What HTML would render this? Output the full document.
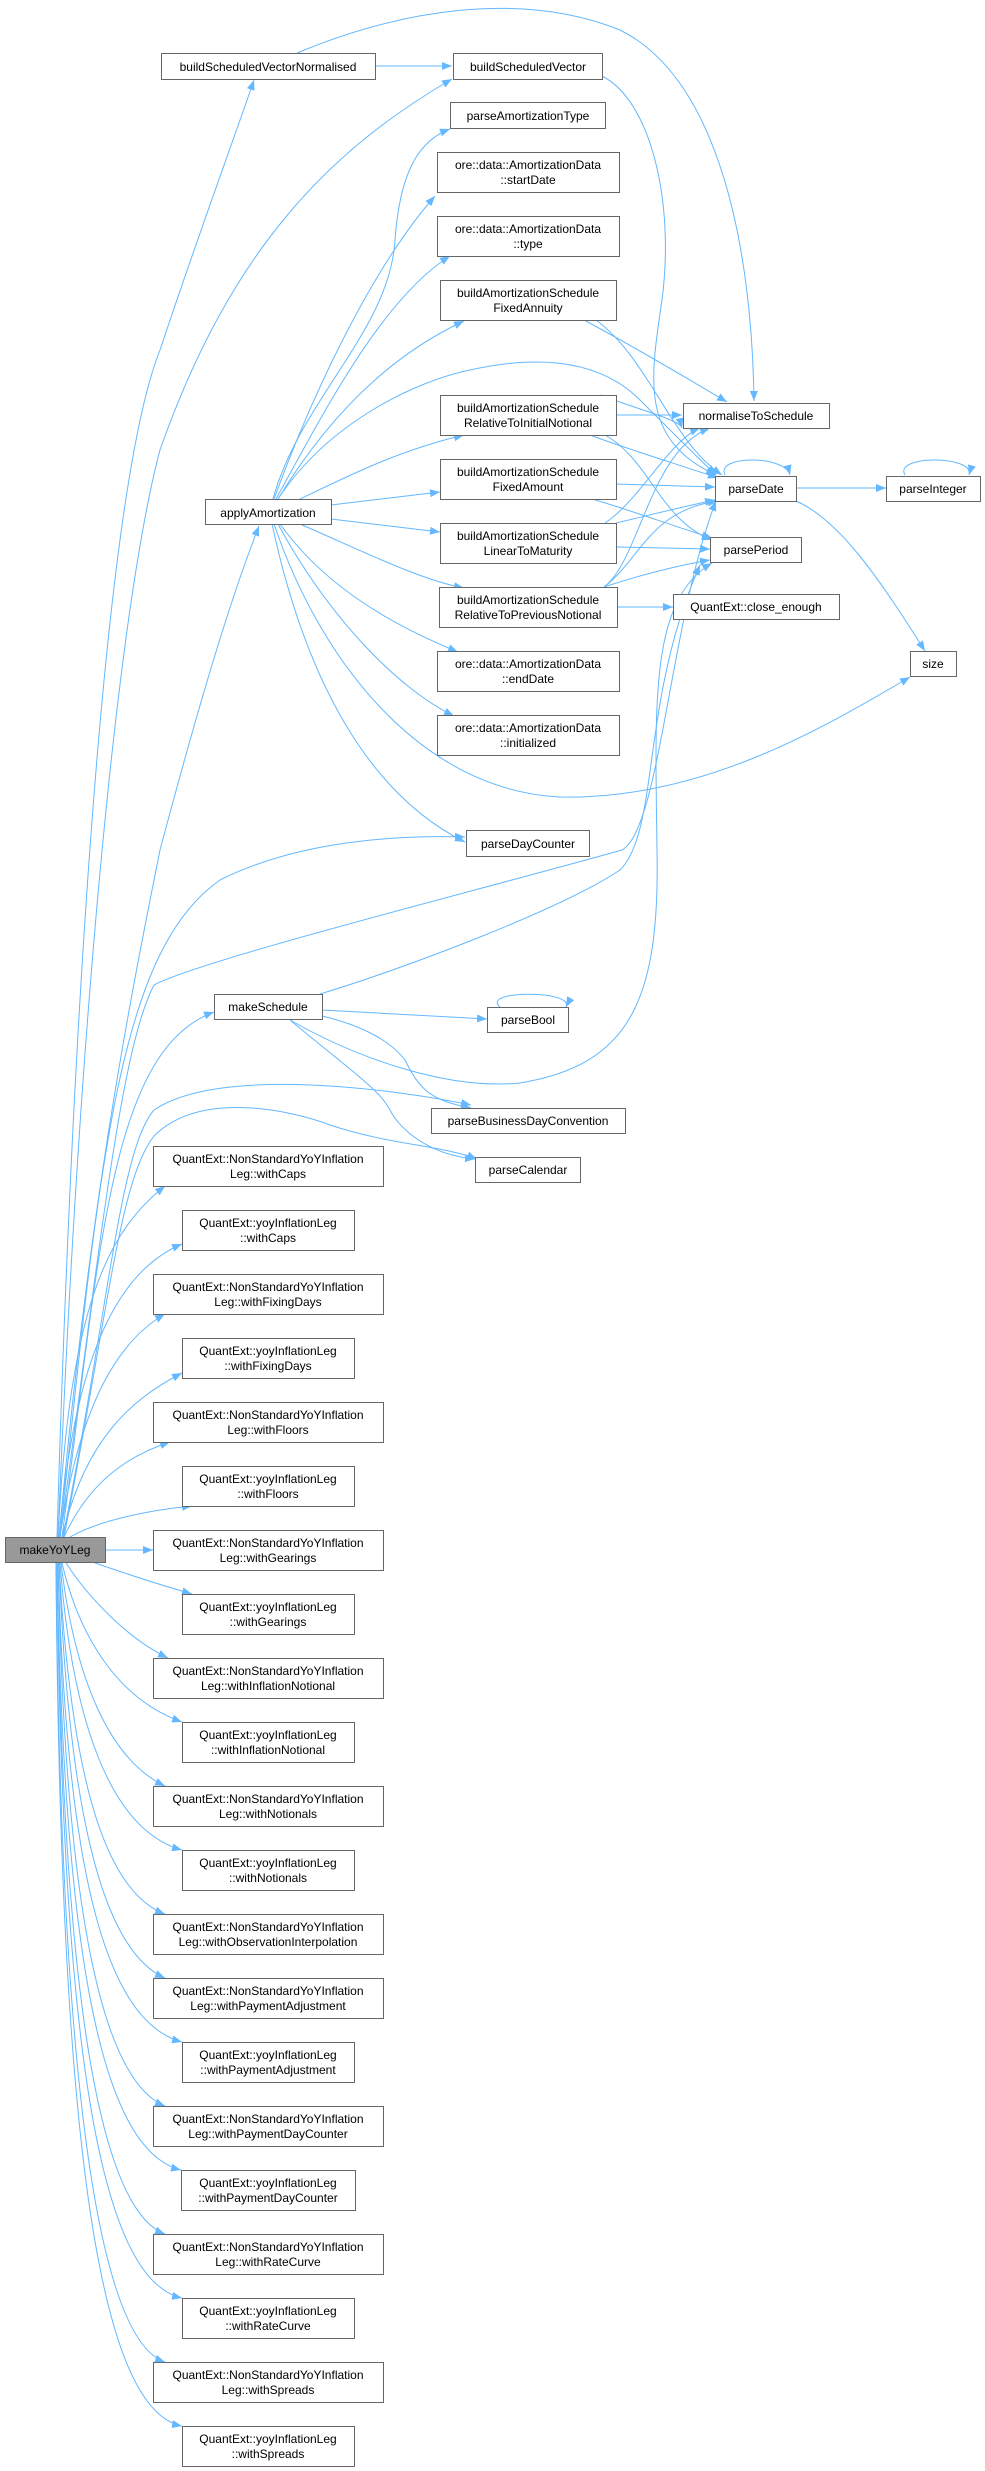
<!DOCTYPE html>
<html><head><meta charset="utf-8"><style>
html,body{margin:0;padding:0;background:#fff}
svg{display:block}
text{font-family:"Liberation Sans",Arial,sans-serif;font-size:12px;fill:#000;text-anchor:middle}
.n{fill:#fff;stroke:#666;stroke-width:1}
.e{fill:none;stroke:#63b8ff;stroke-width:1}
</style></head><body>
<svg width="985" height="2471" viewBox="0 0 985 2471" xmlns="http://www.w3.org/2000/svg">
<defs><marker id="a" markerUnits="userSpaceOnUse" markerWidth="11" markerHeight="8" refX="10" refY="4" orient="auto"><path d="M0,0 L10,4 L0,8 z" fill="#63b8ff"/></marker></defs>
<g class="e" marker-end="url(#a)">
<path d="M375,66 L452,66"/>
<path d="M297,53 C400,10 520,-10 620,30 C720,80 752,250 754,401"/>
<path d="M602,76 C650,100 675,200 662,300 C650,380 640,440 716,475"/>
<path d="M584,320 C640,350 690,380 727,402"/>
<path d="M596,320 C650,360 670,440 722,475"/>
<path d="M616,415 L682,415"/>
<path d="M590,435 C630,450 680,465 718,478"/>
<path d="M605,435 C650,460 660,520 712,540"/>
<path d="M600,395 C640,410 680,420 682,428"/>
<path d="M616,484 L715,487"/>
<path d="M592,499 C630,510 670,525 712,538"/>
<path d="M605,523 C640,500 670,440 700,428"/>
<path d="M616,523 C650,515 690,505 715,500"/>
<path d="M616,547 L710,549"/>
<path d="M604,587 C640,560 650,450 710,428"/>
<path d="M604,587 C640,560 650,510 718,501"/>
<path d="M604,587 C640,575 680,565 710,560"/>
<path d="M617,607 L673,607"/>
<path d="M796,488 L886,488"/>
<path d="M796,501 C840,520 880,580 925,651"/>
<path d="M725,475 C715,455 785,455 790,475"/>
<path d="M905,475 C893,455 975,455 969,475"/>
<path d="M273,499 C300,400 390,330 395,240 C400,170 420,140 450,129"/>
<path d="M274,499 C310,400 370,270 435,196"/>
<path d="M276,499 C320,420 380,300 450,256"/>
<path d="M278,499 C320,430 380,360 464,321"/>
<path d="M278,499 C330,420 420,380 470,370 C560,350 610,370 640,400 C670,430 700,460 716,475"/>
<path d="M300,499 C350,475 400,450 464,435"/>
<path d="M331,505 L440,492"/>
<path d="M331,519 L440,532"/>
<path d="M300,524 C360,550 420,580 464,588"/>
<path d="M280,524 C320,580 380,620 458,652"/>
<path d="M278,524 C330,620 400,690 454,716"/>
<path d="M274,524 C320,660 420,790 560,797 C700,800 820,730 910,677"/>
<path d="M272,524 C310,700 380,800 465,842"/>
<path d="M320,994 C400,970 560,910 620,870 C660,830 640,700 700,565"/>
<path d="M322,1010 L487,1019"/>
<path d="M322,1016 C360,1025 390,1040 405,1060 C420,1090 430,1100 471,1108"/>
<path d="M290,1020 C350,1070 380,1090 390,1110 C400,1130 430,1155 475,1159"/>
<path d="M290,1020 C360,1060 450,1090 520,1083 C630,1065 660,1000 657,850 C655,700 650,600 712,563"/>
<path d="M500,1007 C480,990 575,990 566,1007"/>
<path d="M57,1537 C70,1100 100,500 160,350 C200,230 230,150 254,80"/>
<path d="M58,1537 C80,1000 120,600 160,450 C230,250 330,150 452,79"/>
<path d="M59,1537 C90,1200 130,1000 160,850 C200,700 230,600 259,526"/>
<path d="M60,1537 C100,1150 120,950 220,880 C300,840 400,835 465,837"/>
<path d="M60,1537 C100,1250 120,1050 154,985 C200,960 480,890 622,850 C660,830 670,620 716,501"/>
<path d="M62,1537 C100,1250 110,1050 214,1012"/>
<path d="M63,1537 C110,1300 120,1150 154,1110 C220,1065 400,1090 471,1105"/>
<path d="M64,1537 C110,1300 120,1180 154,1136 C200,1090 290,1110 330,1125 C390,1145 440,1145 477,1159"/>
<path d="M58,1537 C70,1300 110,1230 165,1186"/>
<path d="M59,1537 C75,1350 120,1270 182,1244"/>
<path d="M60,1537 C80,1400 120,1340 165,1314"/>
<path d="M62,1537 C85,1440 130,1400 182,1373"/>
<path d="M64,1537 C90,1480 130,1455 170,1442"/>
<path d="M70,1537 C100,1520 150,1510 192,1506"/>
<path d="M106,1550 L153,1550"/>
<path d="M95,1563 C130,1575 160,1585 192,1594"/>
<path d="M66,1563 C90,1600 130,1640 168,1658"/>
<path d="M62,1563 C80,1640 120,1700 182,1722"/>
<path d="M61,1563 C75,1680 110,1760 165,1786"/>
<path d="M60,1563 C72,1720 110,1830 182,1850"/>
<path d="M59,1563 C70,1760 100,1890 165,1914"/>
<path d="M59,1563 C68,1800 100,1950 165,1978"/>
<path d="M58,1563 C66,1850 100,2020 182,2042"/>
<path d="M58,1563 C65,1900 100,2080 165,2106"/>
<path d="M57,1563 C64,1950 100,2150 181,2170"/>
<path d="M57,1563 C63,2000 100,2210 165,2234"/>
<path d="M57,1563 C62,2050 100,2280 182,2298"/>
<path d="M56,1563 C61,2100 100,2340 165,2362"/>
<path d="M56,1563 C60,2150 100,2410 182,2426"/>
</g>
<g>
<rect class="n" x="161.5" y="53.5" width="214" height="26"/><text x="268" y="71">buildScheduledVectorNormalised</text>
<rect class="n" x="453.5" y="53.5" width="149" height="26"/><text x="528" y="71">buildScheduledVector</text>
<rect class="n" x="450.5" y="102.5" width="155" height="26"/><text x="528" y="120">parseAmortizationType</text>
<rect class="n" x="437.5" y="152.5" width="182" height="40"/><text x="528" y="169">ore::data::AmortizationData</text><text x="528" y="184">::startDate</text>
<rect class="n" x="437.5" y="216.5" width="182" height="40"/><text x="528" y="233">ore::data::AmortizationData</text><text x="528" y="248">::type</text>
<rect class="n" x="440.5" y="280.5" width="176" height="40"/><text x="528" y="297">buildAmortizationSchedule</text><text x="528" y="312">FixedAnnuity</text>
<rect class="n" x="440.5" y="395.5" width="176" height="40"/><text x="528" y="412">buildAmortizationSchedule</text><text x="528" y="427">RelativeToInitialNotional</text>
<rect class="n" x="440.5" y="459.5" width="176" height="40"/><text x="528" y="476">buildAmortizationSchedule</text><text x="528" y="491">FixedAmount</text>
<rect class="n" x="440.5" y="523.5" width="176" height="40"/><text x="528" y="540">buildAmortizationSchedule</text><text x="528" y="555">LinearToMaturity</text>
<rect class="n" x="439.5" y="587.5" width="178" height="40"/><text x="528" y="604">buildAmortizationSchedule</text><text x="528" y="619">RelativeToPreviousNotional</text>
<rect class="n" x="437.5" y="651.5" width="182" height="40"/><text x="528" y="668">ore::data::AmortizationData</text><text x="528" y="683">::endDate</text>
<rect class="n" x="437.5" y="715.5" width="182" height="40"/><text x="528" y="732">ore::data::AmortizationData</text><text x="528" y="747">::initialized</text>
<rect class="n" x="466.5" y="830.5" width="123" height="26"/><text x="528" y="848">parseDayCounter</text>
<rect class="n" x="205.5" y="499.5" width="126" height="25"/><text x="268" y="517">applyAmortization</text>
<rect class="n" x="683.5" y="403.5" width="146" height="25"/><text x="756" y="420">normaliseToSchedule</text>
<rect class="n" x="715.5" y="476.5" width="81" height="25"/><text x="756" y="493">parseDate</text>
<rect class="n" x="886.5" y="476.5" width="94" height="25"/><text x="933" y="493">parseInteger</text>
<rect class="n" x="710.5" y="537.5" width="91" height="25"/><text x="756" y="554">parsePeriod</text>
<rect class="n" x="673.5" y="594.5" width="166" height="25"/><text x="756" y="611">QuantExt::close_enough</text>
<rect class="n" x="910.5" y="651.5" width="46" height="25"/><text x="933" y="668">size</text>
<rect class="n" x="214.5" y="994.5" width="108" height="25"/><text x="268" y="1011">makeSchedule</text>
<rect class="n" x="487.5" y="1007.5" width="81" height="25"/><text x="528" y="1024">parseBool</text>
<rect class="n" x="431.5" y="1108.5" width="194" height="25"/><text x="528" y="1125">parseBusinessDayConvention</text>
<rect class="n" x="475.5" y="1157.5" width="105" height="25"/><text x="528" y="1174">parseCalendar</text>
<rect x="5.5" y="1537.5" width="100" height="25" fill="#999" stroke="#666"/><text x="55" y="1554">makeYoYLeg</text>
</g>
<g>
<rect class="n" x="153.5" y="1146.5" width="230" height="40"/><text x="268" y="1163">QuantExt::NonStandardYoYInflation</text><text x="268" y="1178">Leg::withCaps</text>
<rect class="n" x="182.5" y="1210.5" width="172" height="40"/><text x="268" y="1227">QuantExt::yoyInflationLeg</text><text x="268" y="1242">::withCaps</text>
<rect class="n" x="153.5" y="1274.5" width="230" height="40"/><text x="268" y="1291">QuantExt::NonStandardYoYInflation</text><text x="268" y="1306">Leg::withFixingDays</text>
<rect class="n" x="182.5" y="1338.5" width="172" height="40"/><text x="268" y="1355">QuantExt::yoyInflationLeg</text><text x="268" y="1370">::withFixingDays</text>
<rect class="n" x="153.5" y="1402.5" width="230" height="40"/><text x="268" y="1419">QuantExt::NonStandardYoYInflation</text><text x="268" y="1434">Leg::withFloors</text>
<rect class="n" x="182.5" y="1466.5" width="172" height="40"/><text x="268" y="1483">QuantExt::yoyInflationLeg</text><text x="268" y="1498">::withFloors</text>
<rect class="n" x="153.5" y="1530.5" width="230" height="40"/><text x="268" y="1547">QuantExt::NonStandardYoYInflation</text><text x="268" y="1562">Leg::withGearings</text>
<rect class="n" x="182.5" y="1594.5" width="172" height="40"/><text x="268" y="1611">QuantExt::yoyInflationLeg</text><text x="268" y="1626">::withGearings</text>
<rect class="n" x="153.5" y="1658.5" width="230" height="40"/><text x="268" y="1675">QuantExt::NonStandardYoYInflation</text><text x="268" y="1690">Leg::withInflationNotional</text>
<rect class="n" x="182.5" y="1722.5" width="172" height="40"/><text x="268" y="1739">QuantExt::yoyInflationLeg</text><text x="268" y="1754">::withInflationNotional</text>
<rect class="n" x="153.5" y="1786.5" width="230" height="40"/><text x="268" y="1803">QuantExt::NonStandardYoYInflation</text><text x="268" y="1818">Leg::withNotionals</text>
<rect class="n" x="182.5" y="1850.5" width="172" height="40"/><text x="268" y="1867">QuantExt::yoyInflationLeg</text><text x="268" y="1882">::withNotionals</text>
<rect class="n" x="153.5" y="1914.5" width="230" height="40"/><text x="268" y="1931">QuantExt::NonStandardYoYInflation</text><text x="268" y="1946">Leg::withObservationInterpolation</text>
<rect class="n" x="153.5" y="1978.5" width="230" height="40"/><text x="268" y="1995">QuantExt::NonStandardYoYInflation</text><text x="268" y="2010">Leg::withPaymentAdjustment</text>
<rect class="n" x="182.5" y="2042.5" width="172" height="40"/><text x="268" y="2059">QuantExt::yoyInflationLeg</text><text x="268" y="2074">::withPaymentAdjustment</text>
<rect class="n" x="153.5" y="2106.5" width="230" height="40"/><text x="268" y="2123">QuantExt::NonStandardYoYInflation</text><text x="268" y="2138">Leg::withPaymentDayCounter</text>
<rect class="n" x="181.5" y="2170.5" width="174" height="40"/><text x="268" y="2187">QuantExt::yoyInflationLeg</text><text x="268" y="2202">::withPaymentDayCounter</text>
<rect class="n" x="153.5" y="2234.5" width="230" height="40"/><text x="268" y="2251">QuantExt::NonStandardYoYInflation</text><text x="268" y="2266">Leg::withRateCurve</text>
<rect class="n" x="182.5" y="2298.5" width="172" height="40"/><text x="268" y="2315">QuantExt::yoyInflationLeg</text><text x="268" y="2330">::withRateCurve</text>
<rect class="n" x="153.5" y="2362.5" width="230" height="40"/><text x="268" y="2379">QuantExt::NonStandardYoYInflation</text><text x="268" y="2394">Leg::withSpreads</text>
<rect class="n" x="182.5" y="2426.5" width="172" height="40"/><text x="268" y="2443">QuantExt::yoyInflationLeg</text><text x="268" y="2458">::withSpreads</text>
</g>
</svg>
</body></html>
